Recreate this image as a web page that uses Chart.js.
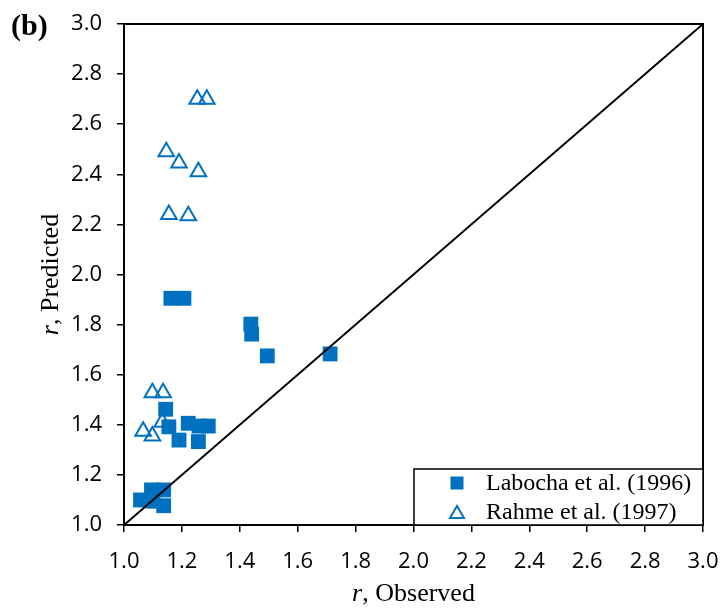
<!DOCTYPE html>
<html>
<head>
<meta charset="utf-8">
<script src="https://cdn.jsdelivr.net/npm/chart.js@4.4.0/dist/chart.umd.min.js"></script>
<style>
  html, body { margin:0; padding:0; background:#fff; }
  #wrap { width:721px; height:611px; }
</style>
</head>
<body>
<div id="wrap"><canvas id="scatterChart" width="721" height="611"></canvas></div>
<script>
const xTicks = [1.0,1.2,1.4,1.6,1.8,2.0,2.2,2.4,2.6,2.8,3.0];
const yTicks = [1.0,1.2,1.4,1.6,1.8,2.0,2.2,2.4,2.6,2.8,3.0];

// Labocha et al. (1996): observed, predicted
const labochaObs  = [1.057,1.095,1.137,1.100,1.137,1.144,1.155,1.190,1.222,1.257,1.259,1.291,1.162,1.207,1.438,1.441,1.495,1.712];
const labochaPred = [1.100,1.140,1.140,1.095,1.077,1.462,1.392,1.339,1.406,1.333,1.395,1.395,1.905,1.905,1.802,1.762,1.675,1.683];

// Rahme et al. (1997): observed, predicted
const rahmeObs  = [1.253,1.286,1.146,1.190,1.257,1.155,1.222,1.098,1.135,1.132,1.066,1.098];
const rahmePred = [2.700,2.700,2.490,2.445,2.410,2.240,2.235,1.528,1.528,1.410,1.374,1.355];

const lineX = [1.0,3.0];
const lineY = [1.0,3.0];

const blue = "#0070C0";

function pts(xs, ys){ return xs.map((x,i) => ({x:x, y:ys[i]})); }

const framePlugin = {
  id:"frame",
  afterDraw(chart){
    const ctx = chart.ctx, a = chart.chartArea;
    ctx.save();
    // box round plot
    ctx.strokeStyle = "#000"; ctx.lineWidth = 2;
    ctx.strokeRect(a.left, a.top, a.right - a.left, a.bottom - a.top);

    // panel label
    ctx.fillStyle = "#000";
    ctx.font = "bold 30px 'Liberation Serif'";
    ctx.textBaseline = "alphabetic"; ctx.textAlign = "left";
    ctx.fillText("(b)", 11, 35);

    // x title
    const r1 = "r";
    ctx.font = "italic 26px 'Liberation Serif'";
    const wr = ctx.measureText(r1).width;
    ctx.font = "26px 'Liberation Serif'";
    const rest = ", Observed";
    const wrest = ctx.measureText(rest).width;
    let x0 = (a.left + a.right) / 2 - (wr + wrest) / 2;
    ctx.font = "italic 26px 'Liberation Serif'";
    ctx.fillText(r1, x0, 601);
    ctx.font = "26px 'Liberation Serif'";
    ctx.fillText(rest, x0 + wr, 601);

    // y title
    ctx.save();
    ctx.translate(58, (a.top + a.bottom) / 2);
    ctx.rotate(-Math.PI / 2);
    const rest2 = ", Predicted";
    const wrest2 = ctx.measureText(rest2).width;
    ctx.font = "italic 26px 'Liberation Serif'";
    x0 = -(wr + wrest2) / 2;
    ctx.fillText(r1, x0, 0);
    ctx.font = "26px 'Liberation Serif'";
    ctx.fillText(rest2, x0 + wr, 0);
    ctx.restore();

    // legend
    const lx = 414, ly = 469, lw = a.right - lx, lh = a.bottom - ly;
    ctx.fillStyle = "#fff";
    ctx.fillRect(lx, ly, lw, lh);
    ctx.strokeStyle = "#000"; ctx.lineWidth = 1.5;
    ctx.strokeRect(lx, ly, lw, lh);
    ctx.fillStyle = blue;
    ctx.fillRect(457 - 6.5, 483 - 6.5, 13, 13);
    ctx.strokeStyle = blue; ctx.lineWidth = 2;
    ctx.beginPath();
    ctx.moveTo(457, 506); ctx.lineTo(464, 518); ctx.lineTo(450, 518); ctx.closePath();
    ctx.stroke();
    ctx.fillStyle = "#000";
    ctx.font = "24px 'Liberation Serif'";
    ctx.textBaseline = "middle";
    ctx.fillText(chart.data.datasets[0].label, 486, 484);
    ctx.fillText(chart.data.datasets[1].label, 486, 513);
    ctx.restore();
  }
};

const ctx = document.getElementById("scatterChart").getContext("2d");
new Chart(ctx, {
  type:"scatter",
  data:{
    datasets:[
      { label:"Labocha et al. (1996)", data:pts(labochaObs, labochaPred),
        pointStyle:"rect", pointRadius:10.5, backgroundColor:blue, borderColor:blue, borderWidth:0 },
      { label:"Rahme et al. (1997)", data:pts(rahmeObs, rahmePred),
        pointStyle:"triangle", pointRadius:9, backgroundColor:"rgba(255,255,255,0)", borderColor:blue, borderWidth:2 },
      { label:"1:1", data:pts(lineX, lineY), showLine:true, pointRadius:0,
        borderColor:"#000", borderWidth:2, order:-1 }
    ]
  },
  options:{
    responsive:false,
    animation:false,
    layout:{ padding:{ left:0, top:24, right:18, bottom:0 } },
    plugins:{ legend:{ display:false }, tooltip:{ enabled:false } },
    scales:{
      x:{
        type:"linear", min:1.0, max:3.0,
        afterFit(scale){ scale.height = 86; scale.paddingLeft = 0; scale.paddingRight = 0; },
        afterBuildTicks(scale){ scale.ticks = xTicks.map(v => ({value:v})); },
        ticks:{ color:"#000", font:{ family:"'Open Sans'", size:22 }, padding:17,
                callback:v => v.toFixed(1), maxRotation:0, autoSkip:false },
        grid:{ drawOnChartArea:false, drawTicks:true, tickLength:7, color:"#000", lineWidth:1.5 },
        border:{ display:true, color:"#000", width:2 }
      },
      y:{
        type:"linear", min:1.0, max:3.0,
        afterFit(scale){ scale.width = 124; scale.paddingTop = 0; scale.paddingBottom = 0; },
        afterBuildTicks(scale){ scale.ticks = yTicks.map(v => ({value:v})); },
        ticks:{ color:"#000", font:{ family:"'Open Sans'", size:22 }, padding:15,
                callback:v => v.toFixed(1), autoSkip:false },
        grid:{ drawOnChartArea:false, drawTicks:true, tickLength:7, color:"#000", lineWidth:1.5 },
        border:{ display:true, color:"#000", width:2 }
      }
    }
  },
  plugins:[framePlugin]
});
</script>
</body>
</html>
